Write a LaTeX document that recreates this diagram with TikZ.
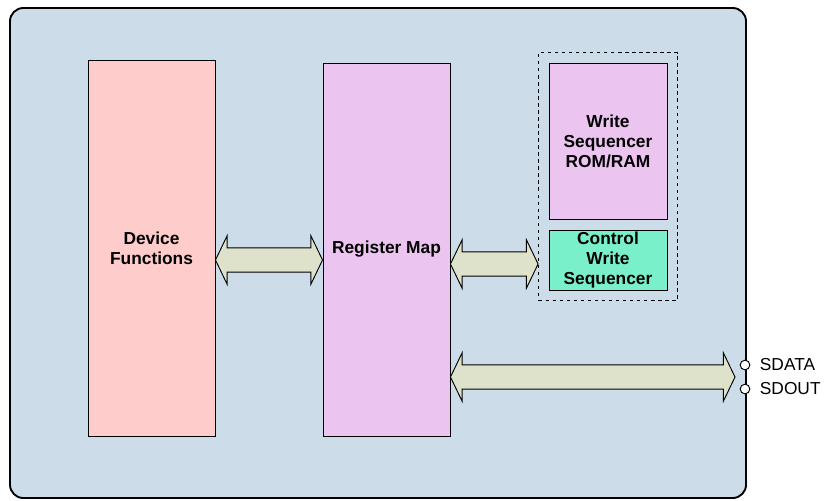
\documentclass[tikz,border=0pt]{standalone}
\usepackage{fontspec}
\setmainfont{Liberation Sans}
\usepackage{tikz}
\usetikzlibrary{calc,fit,positioning}

\definecolor{chipblue}{RGB}{204,221,233}
\definecolor{devpink}{RGB}{255,204,204}
\definecolor{regviolet}{RGB}{236,196,240}
\definecolor{ctrlgreen}{RGB}{122,240,202}
\definecolor{busolive}{RGB}{222,226,202}

\tikzset{
    block/.style={draw, line width=0.8pt, align=center, inner sep=0pt,
        font=\fontsize{14.8}{17}\selectfont\bfseries},
    bus/.style={draw, line width=0.8pt, fill=busolive, line join=miter},
    pindot/.style={draw, circle, fill=white, line width=0.8pt, minimum size=0.29cm, inner sep=0pt},
    pinlabel/.style={inner sep=0pt, anchor=west, font=\fontsize{14.8}{17}\selectfont}
}

% double headed block arrow between two points at the height of the first
\newcommand{\busarrow}[2]{%
    \draw[bus] let \p1=(#1), \p2=(#2) in
        (\x1,\y1) -- (\x1+10pt,\y1+20.8pt) -- (\x1+10pt,\y1+10.4pt)
        -- (\x2-10pt,\y1+10.4pt) -- (\x2-10pt,\y1+20.8pt) -- (\x2,\y1)
        -- (\x2-10pt,\y1-20.8pt) -- (\x2-10pt,\y1-10.4pt)
        -- (\x1+10pt,\y1-10.4pt) -- (\x1+10pt,\y1-20.8pt) -- cycle;}

\begin{document}
\begin{tikzpicture}[x=0.03cm, y=-0.03cm]
    \useasboundingbox (0,0) rectangle (824,500);

    \node [draw, line width=1.6pt, fill=chipblue, rounded corners=0.4cm,
        minimum width=22.08cm, minimum height=14.7cm] (chip) at (378,253) {};

    \node [block, fill=devpink, minimum width=3.81cm, minimum height=11.28cm] (dev) at (151.5,248) {Device\\Functions};
    \node [block, fill=regviolet, minimum width=3.81cm, minimum height=11.19cm] (reg) at (386.5,249.5) {Register Map};

    \node [block, fill=regviolet, minimum width=3.54cm, minimum height=4.68cm] (rom) at (608,141) {Write\\Sequencer\\ROM/RAM};
    \node [block, fill=ctrlgreen, minimum width=3.54cm, minimum height=1.8cm] (ctrl) at (608,260) {Control\\Write\\Sequencer};
    \node [draw, dashed, line width=0.8pt, inner sep=0.3cm, fit=(rom)(ctrl)] (seq) {};

\node [pindot] (sdata) at (745,365) {};
\node [pindot] (sdout) at (745,389) {};
\node [pinlabel, right=8pt of sdata] (sdatalbl) {SDATA};
\node [pinlabel, right=8pt of sdout] (sdoutlbl) {SDOUT};
\coordinate (busend) at (735,377);

\busarrow{$(dev.east)+(0,12)$}{reg.west}
\busarrow{$(reg.east |- ctrl.west)+(0,4)$}{seq.west}
\busarrow{reg.east |- busend}{busend}
\end{tikzpicture}
\end{document}
